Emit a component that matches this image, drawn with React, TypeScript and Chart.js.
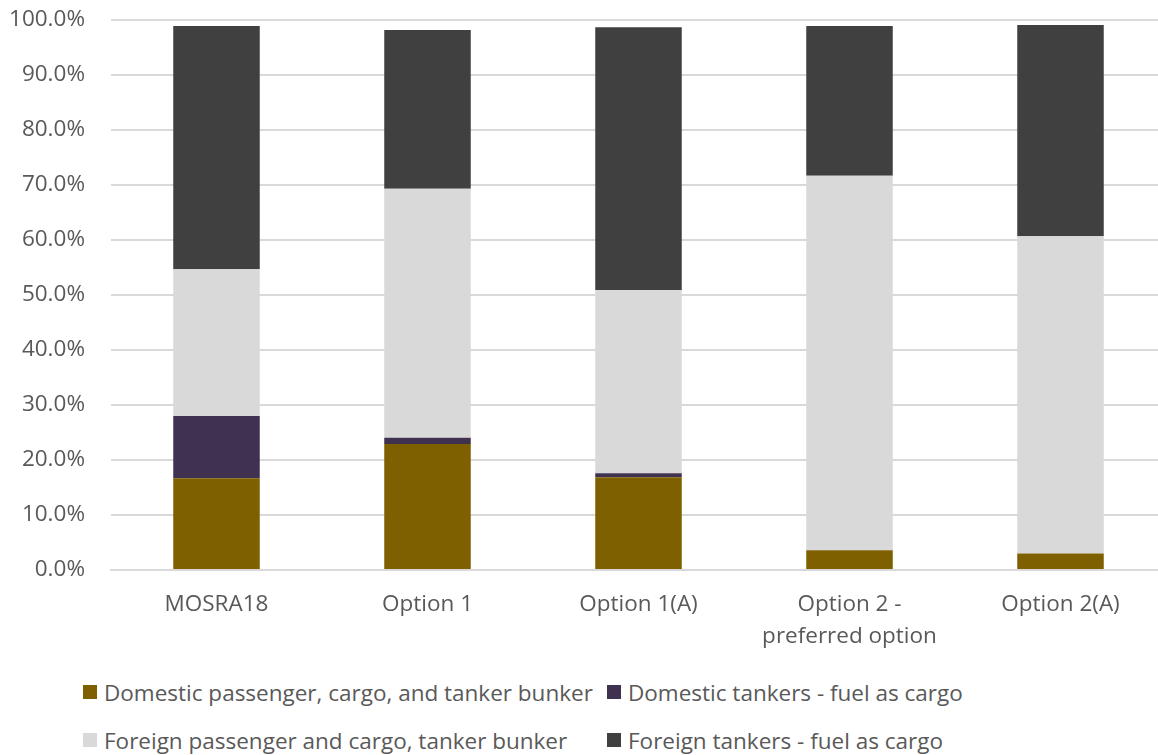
import React, { useEffect, useRef } from "react";
import { Chart, registerables } from "chart.js";

Chart.register(...registerables);

const categories: (string | string[])[] = [
  "MOSRA18",
  "Option 1",
  "Option 1(A)",
  ["Option 2 -", "preferred option"],
  "Option 2(A)",
];

const domesticBunker = [16.7, 22.9, 16.85, 3.6, 3.0];
const domesticTankers = [11.3, 1.15, 0.75, 0.0, 0.0];
const foreignBunker = [26.7, 45.25, 33.3, 68.1, 57.7];
const foreignTankers = [44.2, 28.9, 47.8, 27.2, 38.4];

const seriesNames = [
  "Domestic passenger, cargo, and tanker bunker",
  "Domestic tankers - fuel as cargo",
  "Foreign passenger and cargo, tanker bunker",
  "Foreign tankers - fuel as cargo",
];
const seriesColors = ["#7F6000", "#403151", "#D9D9D9", "#404040"];

const yTicks = [0, 10, 20, 30, 40, 50, 60, 70, 80, 90, 100];

const FONT = "'Open Sans', 'Noto Sans', sans-serif";
const TEXT = "#595959";
const FS = 22.5;

export default function App() {
  const ref = useRef<HTMLCanvasElement>(null);

  useEffect(() => {
    if (!ref.current) return;
    const values = [domesticBunker, domesticTankers, foreignBunker, foreignTankers];
    const chart = new Chart(ref.current, {
      type: "bar",
      data: {
        labels: categories,
        datasets: values.map((v, i) => ({
          label: seriesNames[i],
          data: v,
          backgroundColor: seriesColors[i],
          borderWidth: 0,
          barPercentage: 0.41,
          categoryPercentage: 1,
        })),
      },
      options: {
        animation: false,
        responsive: false,
        maintainAspectRatio: false,
        layout: { padding: { top: 20, left: 0, right: 0, bottom: 0 } },
        plugins: {
          legend: { display: false },
          tooltip: { enabled: false },
        },
        scales: {
          x: {
            stacked: true,
            grid: { display: false, drawTicks: false },
            border: { display: true, color: "#D9D9D9", width: 2 },
            ticks: {
              color: TEXT,
              font: { family: FONT, size: FS, lineHeight: 32 / FS },
              padding: 19,
              maxRotation: 0,
              autoSkip: false,
            },
            afterFit: (s: any) => {
              s.height = 90;
              s.paddingLeft = 0;
              s.paddingRight = 0;
            },
          },
          y: {
            stacked: true,
            min: 0,
            max: 100,
            afterBuildTicks: (s: any) => {
              s.ticks = yTicks.map((v) => ({ value: v }));
            },
            grid: { color: "#D9D9D9", lineWidth: 2, drawTicks: false },
            border: { display: false },
            ticks: {
              color: TEXT,
              font: { family: FONT, size: FS },
              padding: 26,
              callback: (v: any) => Number(v).toFixed(1) + "%",
            },
            afterFit: (s: any) => {
              s.width = 111;
              s.paddingTop = 0;
              s.paddingBottom = 0;
            },
          },
        },
      },
    });
    return () => chart.destroy();
  }, []);

  const legendRow = (a: number, b: number, top: number) => (
    <div style={{ position: "absolute", top, left: 0, width: 1158, height: 30 }}>
      {[a, b].map((idx, k) => (
        <div
          key={idx}
          style={{
            position: "absolute",
            left: k === 0 ? 83 : 607,
            top: 0,
            display: "flex",
            alignItems: "center",
            height: 30,
            whiteSpace: "nowrap",
          }}
        >
          <span
            style={{
              display: "inline-block",
              width: 14,
              height: 14,
              background: seriesColors[idx],
              marginRight: 7,
            }}
          />
          <span style={{ fontFamily: FONT, fontSize: FS, color: TEXT }}>{seriesNames[idx]}</span>
        </div>
      ))}
    </div>
  );

  return (
    <div
      style={{
        position: "fixed",
        left: 0,
        top: 0,
        width: 1158,
        height: 755,
        overflow: "hidden",
        background: "#fff",
      }}
    >
      <canvas ref={ref} width={1166} height={660} style={{ display: "block" }} />
      {legendRow(0, 1, 677)}
      {legendRow(2, 3, 725)}
    </div>
  );
}
